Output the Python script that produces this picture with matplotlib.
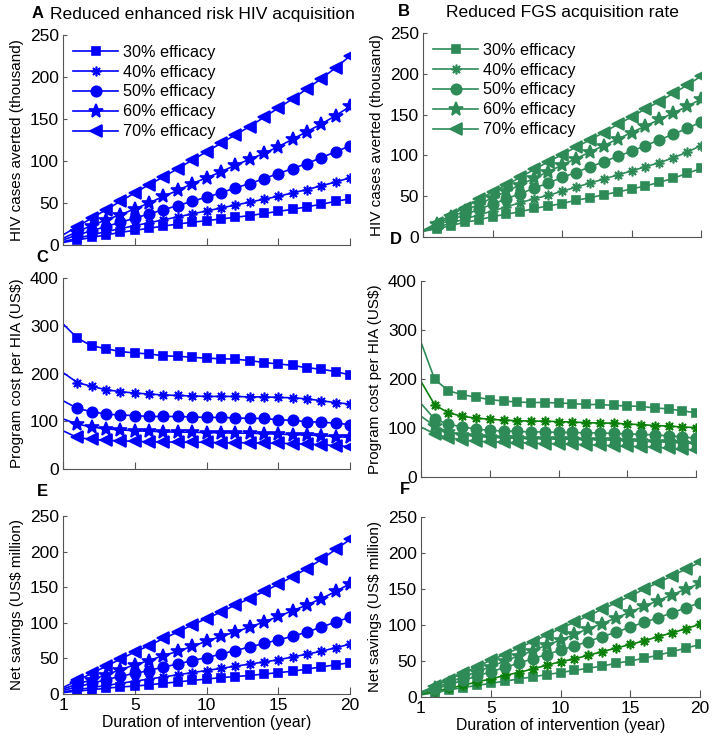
import matplotlib
matplotlib.use('Agg')
import matplotlib.pyplot as plt

plt.rcParams['font.family'] = ['Liberation Sans', 'DejaVu Sans']

# Duration of intervention (axis units 0..20, first tick shown as "1")
years = list(range(21))
xtick_pos = [0, 5, 10, 15, 20]
xtick_labels = ['1', '5', '10', '15', '20']
efficacy_labels = ['30% efficacy', '40% efficacy', '50% efficacy', '60% efficacy', '70% efficacy']

# A: HIV cases averted (thousand), reduced enhanced risk HIV acquisition
a_30 = [3, 6, 9, 12, 15, 17.5, 20, 22.5, 25, 27, 29, 31, 33, 35, 37.5, 40, 42.5, 45.5, 48.5, 52, 55]
a_40 = [4, 8, 12, 16, 19.5, 23, 26.5, 30, 33.5, 37, 40.5, 44, 47.5, 51, 54.5, 58, 62, 66, 70.5, 75, 80]
a_50 = [6, 12, 17, 22, 27, 32, 37, 42, 47, 52, 57, 62, 68, 73, 79, 85, 91, 97, 104, 111, 118]
a_60 = [8, 16, 23, 30, 36, 43, 50, 58, 65, 73, 80, 87, 95, 102, 109, 117, 126, 135, 144, 154, 165]
a_70 = [12, 22, 32, 42, 52, 62, 72, 81, 91, 101, 111, 121, 131, 141, 152, 163, 174, 186, 198, 211, 225]

# B: HIV cases averted (thousand), reduced FGS acquisition rate
b_30 = [7, 10, 14, 18, 21, 25, 28, 31, 35, 38, 41, 45, 48, 52, 55, 59, 62.5, 67, 72, 78, 84]
b_40 = [7, 12, 17, 22, 27, 32, 37, 42, 47, 51, 56, 61, 66, 71, 76, 81, 86, 91, 97, 104, 112]
b_50 = [7, 14, 21, 27, 34, 40, 47, 53, 60, 66, 73, 79, 86, 92, 99, 105, 112, 119, 126, 133, 141]
b_60 = [8, 16, 24, 32, 40, 48, 56, 64, 72, 80, 88, 96, 104, 112, 120, 128, 136, 144, 152, 160, 169]
b_70 = [8, 17, 27, 36, 46, 55, 64, 73, 83, 92, 101, 110, 119, 128, 138, 147, 157, 166, 176, 186, 197]

# C: program cost per HIA (US$), enhanced risk
c_30 = [304, 274, 258, 252, 246, 243, 241, 237, 236, 234, 232, 231, 230, 227, 223, 220, 217, 212, 209, 204, 197]
c_40 = [202, 181, 173, 166, 162, 159, 157, 155, 154, 153, 152, 152, 152, 151, 151, 150, 149, 147, 143, 139, 136]
c_50 = [143, 127, 120, 115, 113, 112, 110, 110, 110, 109, 108, 108, 107, 106, 106, 103, 102, 99, 98, 96, 93]
c_60 = [105, 94, 88, 84, 82, 80, 79, 78, 77, 77, 76, 76, 75, 75, 74, 73, 72, 71, 70, 68, 66]
c_70 = [80, 66, 62, 60, 59, 58, 57, 57, 56, 56, 56, 55, 55, 55, 54, 54, 53, 52, 51, 49, 47]

# D: program cost per HIA (US$), FGS
d_30 = [275, 199, 176, 168, 163, 158, 155, 153, 152, 152, 151, 150, 148, 148, 146, 145, 144, 141, 139, 135, 131]
d_40 = [195, 147, 131, 124, 120, 118, 116, 115, 114, 114, 113, 112, 111, 110, 110, 108, 107, 105, 104, 102, 101]
d_50 = [150, 118, 108, 102, 98, 95, 94, 93, 92, 92, 91, 91, 90, 90, 89, 88, 87, 86, 84, 82, 79]
d_60 = [124, 104, 92, 86, 83, 81, 80, 79, 78, 78, 77, 77, 76, 76, 75, 74, 73, 72, 71, 70, 68]
d_70 = [102, 88, 80, 76, 73, 72, 71, 70, 69, 68, 68, 67, 66, 65, 64, 63, 62, 61, 59, 57, 55]

# E: net savings (US$ million), enhanced risk
e_30 = [2, 4, 6, 8, 10, 11, 13, 15, 17, 19, 21, 23, 24.5, 26, 28, 30, 32, 35, 38, 41, 44]
e_40 = [3, 6, 9, 12, 15, 18, 21, 24, 27, 30, 33, 36, 39, 42, 45, 48, 52, 56, 60, 65, 70]
e_50 = [5, 10, 15, 20, 25, 29, 33, 38, 42, 47, 51, 56, 61, 66, 71, 76, 81, 87, 94, 101, 108]
e_60 = [7, 14, 20, 27, 34, 41, 47, 54, 60, 67, 74, 81, 87, 94, 101, 109, 117, 125, 134, 144, 155]
e_70 = [9, 19, 29, 39, 49, 59, 68, 78, 87, 97, 106, 115, 125, 134, 144, 154, 165, 176, 189, 203, 217]

# F: net savings (US$ million), FGS
f_30 = [3, 6, 10, 13, 16, 19, 22, 25, 28, 31, 34, 37, 40, 43, 47, 50, 54, 58, 63, 68, 73]
f_40 = [4, 8, 12, 16, 21, 25, 30, 34, 39, 44, 49, 53, 58, 63, 68, 73, 78, 84, 89, 95, 101]
f_50 = [5, 11, 17, 23, 29, 35, 41, 47, 53, 59, 65, 71, 77, 84, 90, 97, 104, 110, 117, 124, 131]
f_60 = [6, 13, 20, 28, 35, 42, 50, 57, 64, 72, 79, 87, 95, 102, 110, 118, 126, 134, 142, 150, 158]
f_70 = [7, 15, 24, 33, 42, 51, 59, 68, 77, 86, 95, 104, 113, 122, 131, 140, 150, 159, 168, 178, 187]

blue = '#0000ff'
sea = '#2e8b57'
dark_green = '#0a800a'
markers = ['s', (8, 2, 0), 'o', '*', '<']
msizes = [6, 7, 7.5, 10, 8]

W, H = 715, 746
fig = plt.figure(figsize=(W / 100, H / 100), dpi=100)


def add_axes(left, top, right, bottom):
    return fig.add_axes([left / W, 1 - bottom / H, (right - left) / W, (bottom - top) / H])


def draw(ax, series, colors, ylim, yticks, ylabel, show_x=False, legend=False):
    for i, (vals, col) in enumerate(zip(series, colors)):
        ax.plot(years, vals, color=col, lw=1.2, marker=markers[i], ms=msizes[i],
                markevery=list(range(1, 21)), mfc=col, mec=col, mew=1.2,
                label=efficacy_labels[i])
    ax.set_xlim(0, 20)
    ax.set_ylim(*ylim)
    ax.set_yticks(yticks)
    ax.set_xticks(xtick_pos)
    if show_x:
        ax.set_xticklabels(xtick_labels)
        ax.set_xlabel('Duration of intervention (year)', fontsize=11.3, labelpad=1)
    else:
        ax.set_xticklabels([])
    ax.set_ylabel(ylabel, fontsize=11, labelpad=4)
    for s in ['top', 'right']:
        ax.spines[s].set_visible(False)
    for s in ['left', 'bottom']:
        ax.spines[s].set_color('#555555')
        ax.spines[s].set_linewidth(0.8)
    ax.tick_params(direction='in', length=5, width=0.8, color='#555555', labelsize=12.5, pad=3)
    ax.tick_params(axis='y', length=3)
    if legend:
        ax.legend(loc='upper left', frameon=False, fontsize=11.7, handlelength=2.8,
                  handletextpad=0.3, labelspacing=0.3, borderaxespad=0.2)


blues = [blue] * 5
greens = [sea, sea, sea, sea, sea]
greens_dark = [sea, dark_green, sea, sea, sea]

axA = add_axes(63, 35, 350, 245)
draw(axA, [a_30, a_40, a_50, a_60, a_70], blues, (0, 250), range(0, 251, 50),
     'HIV cases averted (thousand)', legend=True)
axB = add_axes(423, 33, 701, 237)
draw(axB, [b_30, b_40, b_50, b_60, b_70], greens, (0, 250), range(0, 251, 50),
     'HIV cases averted (thousand)', legend=True)
axC = add_axes(63, 278, 350, 469)
draw(axC, [c_30, c_40, c_50, c_60, c_70], blues, (0, 400), range(0, 401, 100),
     'Program cost per HIA (US\\$)')
axD = add_axes(421, 281, 696, 477)
draw(axD, [d_30, d_40, d_50, d_60, d_70], greens_dark, (0, 400), range(0, 401, 100),
     'Program cost per HIA (US\\$)')
axE = add_axes(63, 516, 350, 694)
draw(axE, [e_30, e_40, e_50, e_60, e_70], blues, (0, 250), range(0, 251, 50),
     'Net savings (US\\$ million)', show_x=True)
axF = add_axes(421, 517, 700, 697)
draw(axF, [f_30, f_40, f_50, f_60, f_70], greens_dark, (0, 250), range(0, 251, 50),
     'Net savings (US\\$ million)', show_x=True)

# Panel letters and titles
letters = [('A', 38, 13), ('B', 404, 12), ('C', 42, 257), ('D', 396, 239), ('E', 42, 491), ('F', 405, 489)]
for t, x, y in letters:
    fig.text(x / W, 1 - y / H, t, ha='center', va='center', fontsize=12, weight='bold')
fig.text(50 / W, 1 - 15 / H, 'Reduced enhanced risk HIV acquisition', ha='left', va='center', fontsize=12.6)
fig.text(562 / W, 1 - 13 / H, 'Reduced FGS acquisition rate', ha='center', va='center', fontsize=12.6)

fig.savefig('out.png', dpi=100)
